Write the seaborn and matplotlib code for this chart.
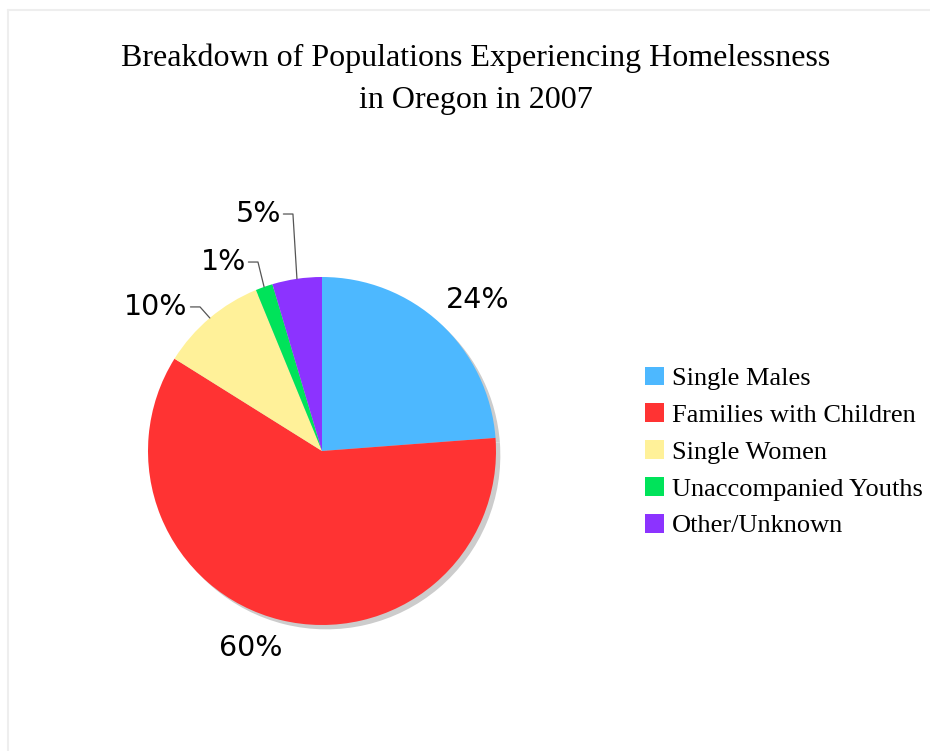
# oregon_homelessness_pie.py
import numpy as np
import matplotlib
matplotlib.use("Agg")
import matplotlib.pyplot as plt
import seaborn as sns

# ---- Data ----
groups = ["Single Males", "Families with Children", "Single Women",
          "Unaccompanied Youths", "Other/Unknown"]
shares = [23.8, 60.1, 9.9, 1.6, 4.6]
share_labels = ["24%", "60%", "10%", "1%", "5%"]
hex_colors = ["#4db8ff", "#ff3333", "#fff199", "#00e35a", "#8c33ff"]

sns.set_theme(style="white")
plt.rcParams["text.color"] = "black"
palette = sns.color_palette(hex_colors)

fig = plt.figure(figsize=(9.3, 7.51), dpi=100)

# ---- Pie axes (centre at 322,451 px, radius 174 px) ----
W, H = 930, 751
cx, cy, r = 322, 451, 174
half = r * 1.1
ax = fig.add_axes([(cx - half) / W, (H - cy - half) / H, 2 * half / W, 2 * half / H])

# shadow copy, then the real pie
ax.pie(shares, colors=["#cccccc"] * len(shares), startangle=90, counterclock=False,
       center=(0.025, -0.025), radius=1, wedgeprops=dict(linewidth=0))
wedges, _ = ax.pie(shares, colors=palette, startangle=90, counterclock=False,
                   radius=1, wedgeprops=dict(linewidth=0))
ax.set_xlim(-1.1, 1.1)
ax.set_ylim(-1.1, 1.1)
ax.set_aspect("equal")
ax.axis("off")

lab_font = dict(family="DejaVu Sans", fontsize=20.5, color="black")

# big slices: text placed out from the slice
ax.text(0.897, 0.868, share_labels[0], ha="center", va="center", **lab_font)
ax.text(-0.408, -1.132, share_labels[1], ha="center", va="center", **lab_font)

# small slices: elbow leader lines
small = {2: (-0.701, 0.828), 3: (-0.368, 1.086), 4: (-0.167, 1.362)}
for i, (ex, ey) in small.items():
    w = wedges[i]
    mid = np.deg2rad((w.theta1 + w.theta2) / 2)
    px, py = np.cos(mid), np.sin(mid)
    ax.plot([ex - 0.055, ex, px], [ey, ey, py], color="#555555", lw=0.9,
            clip_on=False)
    ax.text(ex - 0.07, ey, share_labels[i], ha="right", va="center", **lab_font)

# ---- Title ----
fig.text(476 / W, 1 - 79 / H,
         "Breakdown of Populations Experiencing Homelessness\nin Oregon in 2007",
         ha="center", va="center", family="Liberation Serif", fontsize=23,
         linespacing=1.6, color="black")

# ---- Legend ----
handles = [plt.Rectangle((0, 0), 1, 1, facecolor=c, edgecolor="none") for c in palette]
fig.legend(handles, groups, loc="center left", bbox_to_anchor=(645 / W, 1 - 452 / H),
           frameon=False, borderpad=0, borderaxespad=0, handlelength=0.72,
           handleheight=0.72, handletextpad=0.3, labelspacing=0.5,
           labelcolor="black", prop=dict(family="Liberation Serif", size=19))

# faint page border
fig.add_artist(plt.Line2D([8 / W, 1], [1 - 10 / H, 1 - 10 / H], color="#eeeeee",
                          lw=1.5, transform=fig.transFigure))
fig.add_artist(plt.Line2D([8 / W, 8 / W], [0, 1 - 10 / H], color="#eeeeee",
                          lw=1.5, transform=fig.transFigure))

fig.savefig("out.png", dpi=100, facecolor="white")
